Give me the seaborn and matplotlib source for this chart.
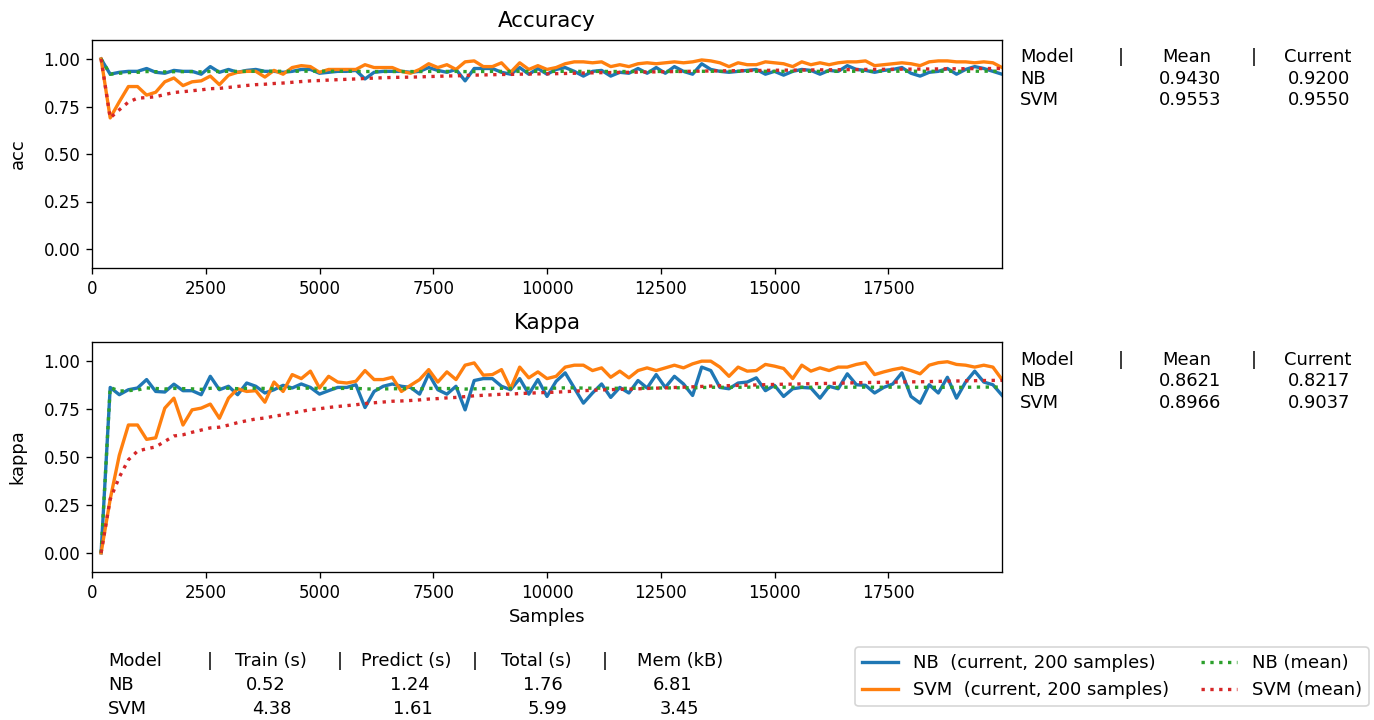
import numpy as np
import pandas as pd
import matplotlib
matplotlib.use("Agg")
import matplotlib.pyplot as plt
import seaborn as sns

# ---------------- data ----------------
samples = list(range(200, 20001, 200))

nb_acc = [1.0, 0.92, 0.93, 0.935, 0.935, 0.95, 0.93, 0.925, 0.94, 0.935,
          0.935, 0.92, 0.96, 0.93, 0.945, 0.93, 0.94, 0.945, 0.935, 0.935,
          0.93, 0.935, 0.945, 0.945, 0.925, 0.93, 0.935, 0.935, 0.94, 0.895,
          0.93, 0.935, 0.935, 0.935, 0.93, 0.935, 0.955, 0.94, 0.93, 0.945,
          0.885, 0.95, 0.95, 0.95, 0.93, 0.92, 0.955, 0.92, 0.95, 0.92,
          0.945, 0.955, 0.935, 0.91, 0.935, 0.94, 0.91, 0.93, 0.925, 0.95,
          0.925, 0.955, 0.925, 0.96, 0.935, 0.92, 0.975, 0.945, 0.935, 0.93,
          0.935, 0.94, 0.945, 0.92, 0.935, 0.915, 0.935, 0.945, 0.94, 0.92,
          0.94, 0.935, 0.965, 0.945, 0.94, 0.93, 0.94, 0.945, 0.955, 0.925,
          0.91, 0.93, 0.935, 0.95, 0.92, 0.945, 0.96, 0.95, 0.935, 0.92]

svm_acc = [1.0, 0.69, 0.775, 0.855, 0.855, 0.81, 0.825, 0.88, 0.9, 0.86,
           0.88, 0.885, 0.91, 0.865, 0.915, 0.93, 0.935, 0.935, 0.905, 0.94,
           0.92, 0.955, 0.965, 0.96, 0.93, 0.945, 0.945, 0.945, 0.945, 0.97,
           0.955, 0.955, 0.955, 0.935, 0.925, 0.945, 0.975, 0.955, 0.97, 0.945,
           0.985, 0.99, 0.96, 0.96, 0.98, 0.93, 0.98, 0.945, 0.965, 0.945,
           0.955, 0.975, 0.985, 0.985, 0.98, 0.985, 0.96, 0.97, 0.96, 0.975,
           0.98, 0.975, 0.98, 0.985, 0.98, 0.985, 0.995, 0.99, 0.98, 0.96,
           0.98, 0.97, 0.97, 0.985, 0.98, 0.975, 0.96, 0.985, 0.97, 0.98,
           0.97, 0.98, 0.985, 0.985, 0.99, 0.965, 0.97, 0.975, 0.98, 0.975,
           0.965, 0.985, 0.99, 0.99, 0.985, 0.985, 0.98, 0.985, 0.98, 0.955]

nb_kappa = [0.0, 0.863, 0.825, 0.851, 0.860, 0.904, 0.842, 0.839, 0.880, 0.846,
            0.846, 0.825, 0.921, 0.851, 0.869, 0.825, 0.886, 0.869, 0.834, 0.851,
            0.874, 0.860, 0.881, 0.863, 0.828, 0.846, 0.863, 0.863, 0.877, 0.758,
            0.842, 0.869, 0.881, 0.869, 0.863, 0.828, 0.934, 0.851, 0.828, 0.869,
            0.746, 0.899, 0.909, 0.909, 0.869, 0.851, 0.909, 0.828, 0.904, 0.816,
            0.895, 0.939, 0.860, 0.781, 0.834, 0.881, 0.811, 0.863, 0.834, 0.899,
            0.860, 0.930, 0.863, 0.921, 0.881, 0.821, 0.969, 0.951, 0.863, 0.856,
            0.886, 0.891, 0.913, 0.846, 0.874, 0.816, 0.856, 0.863, 0.860, 0.807,
            0.869, 0.856, 0.934, 0.877, 0.874, 0.834, 0.863, 0.881, 0.939, 0.816,
            0.781, 0.877, 0.834, 0.916, 0.807, 0.891, 0.948, 0.891, 0.877, 0.822]

svm_kappa = [0.0, 0.28, 0.509, 0.667, 0.667, 0.592, 0.600, 0.755, 0.807, 0.667,
             0.746, 0.755, 0.776, 0.702, 0.807, 0.856, 0.842, 0.846, 0.786, 0.891,
             0.842, 0.930, 0.909, 0.948, 0.860, 0.921, 0.891, 0.886, 0.895, 0.951,
             0.904, 0.904, 0.916, 0.842, 0.874, 0.904, 0.956, 0.891, 0.944, 0.904,
             0.979, 0.991, 0.927, 0.930, 0.956, 0.856, 0.969, 0.913, 0.944, 0.909,
             0.921, 0.969, 0.979, 0.979, 0.951, 0.965, 0.916, 0.948, 0.913, 0.951,
             0.965, 0.951, 0.965, 0.979, 0.965, 0.986, 1.0, 1.0, 0.969, 0.921,
             0.969, 0.948, 0.951, 0.983, 0.974, 0.962, 0.909, 0.979, 0.948, 0.965,
             0.951, 0.969, 0.969, 0.983, 0.992, 0.930, 0.944, 0.956, 0.965, 0.951,
             0.934, 0.979, 0.992, 0.997, 0.983, 0.979, 0.969, 0.979, 0.969, 0.904]

models = ["NB", "SVM"]
acc_mean_txt = ["0.9430", "0.9553"]
acc_curr_txt = ["0.9200", "0.9550"]
kappa_mean_txt = ["0.8621", "0.8966"]
kappa_curr_txt = ["0.8217", "0.9037"]
train_s = ["0.52", "4.38"]
predict_s = ["1.24", "1.61"]
total_s = ["1.76", "5.99"]
mem_kb = ["6.81", "3.45"]

x_ticks = [0, 2500, 5000, 7500, 10000, 12500, 15000, 17500]
y_ticks = [0.0, 0.25, 0.5, 0.75, 1.0]


def running_mean(vals):
    v = np.asarray(vals, dtype=float)
    out = np.empty_like(v)
    out[0] = v[0]
    out[1:] = np.cumsum(v[1:]) / np.arange(1, len(v))
    return out


W, H = 1374, 720
fig = plt.figure(figsize=(W / 120, H / 120), dpi=120)
TXT = 10.7


def fx(px):
    return px / W


def fy(py):
    return 1 - py / H


ax1 = fig.add_axes([fx(92), fy(268), fx(1002) - fx(92), fy(40) - fy(268)])
ax2 = fig.add_axes([fx(92), fy(572), fx(1002) - fx(92), fy(342) - fy(572)])

C = sns.color_palette("tab10")


def draw(ax, nb, svm):
    df = pd.DataFrame({"samples": samples, "nb": nb, "svm": svm,
                       "nb_mean": running_mean(nb), "svm_mean": running_mean(svm)})
    sns.lineplot(data=df, x="samples", y="nb", ax=ax, color=C[0], lw=2,
                 errorbar=None, sort=False)
    sns.lineplot(data=df, x="samples", y="svm", ax=ax, color=C[1], lw=2,
                 errorbar=None, sort=False)
    sns.lineplot(data=df, x="samples", y="nb_mean", ax=ax, color=C[2], lw=2,
                 linestyle=":", errorbar=None, sort=False)
    sns.lineplot(data=df, x="samples", y="svm_mean", ax=ax, color=C[3], lw=2,
                 linestyle=":", errorbar=None, sort=False)
    ax.set_xlim(0, 20000)
    ax.set_ylim(-0.1, 1.1)
    ax.set_xticks(x_ticks)
    ax.set_yticks(y_ticks)
    ax.set_yticklabels([f"{t:.2f}" for t in y_ticks])
    if ax.get_legend() is not None:
        ax.get_legend().remove()


draw(ax1, nb_acc, svm_acc)
draw(ax2, nb_kappa, svm_kappa)

ax1.set_title("Accuracy", fontsize=12.8, pad=8)
ax2.set_title("Kappa", fontsize=12.8, pad=8)
ax1.set_ylabel("acc", fontsize=TXT, labelpad=10)
ax2.set_ylabel("kappa", fontsize=TXT, labelpad=10)
ax1.set_xlabel("")
ax2.set_xlabel("Samples", fontsize=TXT)

# side tables
def side_table(y0, means, currs):
    rows = [y0, y0 + 21.5, y0 + 43]
    fig.text(fx(1020), fy(rows[0]), "Model", va="center", fontsize=TXT)
    fig.text(fx(1118), fy(rows[0]), "|", va="center", fontsize=TXT)
    fig.text(fx(1162), fy(rows[0]), "Mean", va="center", fontsize=TXT)
    fig.text(fx(1251), fy(rows[0]), "|", va="center", fontsize=TXT)
    fig.text(fx(1284), fy(rows[0]), "Current", va="center", fontsize=TXT)
    for i, m in enumerate(models):
        fig.text(fx(1020), fy(rows[i + 1]), m, va="center", fontsize=TXT)
        fig.text(fx(1159), fy(rows[i + 1]), means[i], va="center", fontsize=TXT)
        fig.text(fx(1288), fy(rows[i + 1]), currs[i], va="center", fontsize=TXT)


side_table(57, acc_mean_txt, acc_curr_txt)
side_table(360, kappa_mean_txt, kappa_curr_txt)

# bottom table
by = [661, 685, 709]
hdr = [(108, "Model"), (207, "|"), (235, "Train (s)"), (337, "|"),
       (361, "Predict (s)"), (472, "|"), (501, "Total (s)"), (602, "|"),
       (637, "Mem (kB)")]
for xp, t in hdr:
    fig.text(fx(xp), fy(by[0]), t, va="center", fontsize=TXT)
col_x = [[246, 390, 523, 653], [252, 393, 528, 660]]
for i, m in enumerate(models):
    fig.text(fx(108), fy(by[i + 1]), m, va="center", fontsize=TXT)
    vals = [train_s[i], predict_s[i], total_s[i], mem_kb[i]]
    for xp, v in zip(col_x[i], vals):
        fig.text(fx(xp), fy(by[i + 1]), v, va="center", fontsize=TXT)

# legend
lines = ax1.get_lines()[:4]
labels = ["NB  (current, 200 samples)", "SVM  (current, 200 samples)",
          "NB (mean)", "SVM (mean)"]
fig.legend(lines, labels, ncol=2, loc="upper left",
           bbox_to_anchor=(fx(855), fy(647)), fontsize=10.8,
           columnspacing=1.8, borderaxespad=0)

fig.savefig("out.png", dpi=120)
